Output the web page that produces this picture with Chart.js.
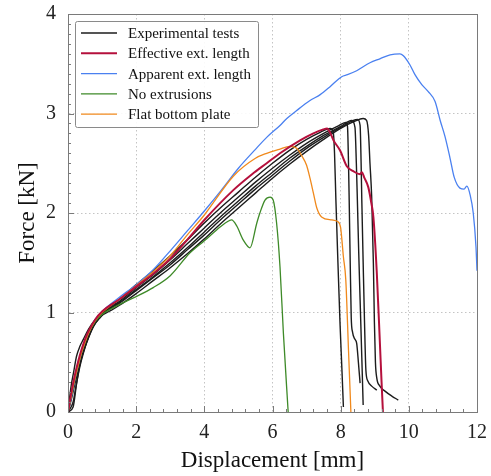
<!DOCTYPE html>
<html>
<head>
<meta charset="utf-8">
<script src="https://cdn.jsdelivr.net/npm/chart.js@4.4.0/dist/chart.umd.min.js"></script>
<style>
  html, body { margin: 0; padding: 0; background: #fff; }
</style>
</head>
<body>
<canvas id="chart" width="491" height="476"></canvas>
<script>
// Force-displacement curves, [displacement mm, force kN]
const expTest1 = [[0,0],[0.05,0.15],[0.1,0.28],[0.16,0.39],[0.25,0.56],[0.35,0.66],[0.45,0.73],[0.6,0.83],[0.8,0.93],[1.0,1.0],[1.25,1.07],[1.5,1.13],[2.0,1.28],[2.5,1.42],[3.0,1.57],[3.5,1.73],[4.0,1.9],[4.5,2.06],[5.0,2.21],[5.5,2.36],[6.0,2.5],[6.5,2.63],[7.0,2.74],[7.4,2.81],[7.69,2.85],[7.78,2.82],[7.82,2.6],[7.86,2.13],[7.92,1.5],[7.98,0.9],[8.04,0.4],[8.08,0.05]];
const expTest2 = [[0,0],[0.1,0.16],[0.2,0.32],[0.3,0.46],[0.4,0.58],[0.55,0.72],[0.75,0.87],[0.94,0.96],[1.2,1.05],[1.5,1.11],[2.0,1.25],[2.5,1.38],[3.0,1.53],[3.5,1.69],[4.0,1.85],[4.5,2.01],[5.0,2.16],[5.5,2.31],[6.0,2.45],[6.5,2.58],[7.0,2.7],[7.5,2.8],[7.9,2.87],[8.15,2.91],[8.2,2.87],[8.23,2.5],[8.25,2.13],[8.28,1.5],[8.31,0.95],[8.35,0.8],[8.42,0.73],[8.47,0.69],[8.52,0.5],[8.57,0.29]];
const expTest3 = [[0,0],[0.1,0.13],[0.2,0.28],[0.3,0.42],[0.4,0.55],[0.55,0.7],[0.75,0.86],[0.94,0.95],[1.2,1.04],[1.5,1.1],[2.0,1.23],[2.5,1.36],[3.0,1.5],[3.5,1.65],[4.0,1.81],[4.5,1.97],[5.0,2.12],[5.5,2.27],[6.0,2.41],[6.5,2.55],[7.0,2.67],[7.5,2.78],[8.0,2.87],[8.32,2.93],[8.42,2.86],[8.46,2.5],[8.49,2.13],[8.53,1.6],[8.57,1.13],[8.62,0.55],[8.66,0.07]];
const expTest4 = [[0,0],[0.15,0.1],[0.25,0.29],[0.35,0.46],[0.45,0.59],[0.55,0.7],[0.74,0.86],[0.94,0.95],[1.2,1.03],[1.5,1.09],[2.0,1.22],[2.5,1.35],[3.0,1.48],[3.5,1.63],[4.0,1.78],[4.5,1.94],[5.0,2.09],[5.5,2.24],[6.0,2.38],[6.5,2.52],[7.0,2.65],[7.5,2.76],[8.0,2.86],[8.5,2.94],[8.57,2.88],[8.6,2.5],[8.62,2.13],[8.66,1.5],[8.7,0.9],[8.74,0.42],[8.8,0.31],[8.91,0.26],[9.06,0.22]];
const expTest5 = [[0,0],[0.15,0.05],[0.25,0.28],[0.35,0.48],[0.55,0.71],[0.74,0.88],[0.94,0.96],[1.2,1.01],[1.5,1.07],[2.0,1.19],[2.5,1.32],[3.0,1.45],[3.5,1.59],[4.0,1.74],[4.5,1.9],[5.0,2.05],[5.5,2.2],[6.0,2.35],[6.5,2.49],[7.0,2.62],[7.5,2.74],[8.0,2.85],[8.4,2.92],[8.66,2.95],[8.76,2.93],[8.82,2.78],[8.86,2.5],[8.91,2.16],[8.96,1.49],[8.99,0.9],[9.02,0.5],[9.06,0.34],[9.15,0.26],[9.3,0.21],[9.5,0.16],[9.69,0.12]];

const effective = [[0,0],[0.1,0.2],[0.2,0.37],[0.3,0.51],[0.4,0.63],[0.5,0.73],[0.6,0.81],[0.8,0.93],[1.0,1.01],[1.5,1.13],[2.0,1.26],[2.5,1.39],[3.0,1.54],[3.5,1.73],[4.0,1.93],[4.85,2.23],[5.4,2.39],[5.83,2.5],[6.22,2.6],[6.81,2.73],[7.2,2.8],[7.49,2.84],[7.6,2.85],[7.7,2.8],[7.79,2.73],[7.98,2.63],[8.18,2.47],[8.37,2.42],[8.57,2.39],[8.62,2.41],[8.7,2.35],[8.81,2.26],[8.9,2.1],[8.96,1.96],[9.06,1.4],[9.15,0.7],[9.2,0.3],[9.24,0]];
const apparent = [[0,0],[0.1,0.15],[0.2,0.32],[0.3,0.47],[0.4,0.6],[0.5,0.71],[0.6,0.8],[0.8,0.93],[1.0,1.01],[1.5,1.15],[2.0,1.28],[2.5,1.43],[3.0,1.62],[3.5,1.82],[4.0,2.02],[4.5,2.23],[5.0,2.45],[5.5,2.64],[5.83,2.76],[6.22,2.88],[6.42,2.95],[6.71,3.03],[7.1,3.13],[7.4,3.19],[7.69,3.27],[8.03,3.37],[8.2,3.39],[8.47,3.43],[8.86,3.51],[9.15,3.55],[9.45,3.59],[9.74,3.6],[9.84,3.58],[10.03,3.49],[10.18,3.39],[10.38,3.29],[10.57,3.22],[10.77,3.12],[10.92,2.93],[11.06,2.77],[11.21,2.55],[11.33,2.36],[11.5,2.25],[11.62,2.24],[11.7,2.27],[11.8,2.18],[11.89,2.0],[11.97,1.66],[12.0,1.42]];
const noExtrusions = [[0,0],[0.1,0.17],[0.2,0.33],[0.3,0.47],[0.4,0.6],[0.5,0.7],[0.6,0.79],[0.8,0.91],[1.0,0.98],[1.23,1.03],[1.62,1.1],[2.0,1.16],[2.5,1.25],[3.0,1.37],[3.58,1.6],[4.0,1.72],[4.36,1.83],[4.66,1.91],[4.8,1.93],[4.95,1.87],[5.14,1.73],[5.34,1.65],[5.54,1.9],[5.63,2.0],[5.78,2.13],[5.93,2.16],[6.02,2.13],[6.12,1.9],[6.22,1.46],[6.32,0.79],[6.46,0]];
const flatPlate = [[0,0],[0.1,0.17],[0.2,0.33],[0.3,0.47],[0.4,0.6],[0.5,0.7],[0.6,0.79],[0.8,0.92],[1.0,1.0],[1.5,1.13],[2.0,1.27],[2.5,1.41],[3.0,1.57],[3.5,1.78],[4.0,1.98],[4.85,2.37],[5.5,2.55],[5.83,2.6],[6.2,2.64],[6.51,2.67],[6.71,2.65],[6.85,2.58],[7.0,2.48],[7.1,2.35],[7.2,2.2],[7.3,2.05],[7.44,1.96],[7.74,1.93],[7.93,1.91],[8.0,1.85],[8.08,1.56],[8.15,1.33],[8.23,0.62],[8.3,0]];

const legendLabels = ['Experimental tests', 'Effective ext. length', 'Apparent ext. length', 'No extrusions', 'Flat bottom plate'];
const xTicks = [0, 2, 4, 6, 8, 10, 12];
const yTicks = [0, 1, 2, 3, 4];

const SERIF = "'Liberation Serif', 'Times New Roman', serif";
const colors = { exp: '#1c1c1c', eff: '#b5103c', app: '#4a80f0', noext: '#3e8a28', flat: '#f0891c' };

function toXY(arr) {
  return arr.map(function(p) { return { x: p[0], y: p[1] }; });
}

function curve(label, data, color, width, order) {
  return {
    label: label,
    data: toXY(data),
    borderColor: color,
    backgroundColor: color,
    borderWidth: width,
    pointRadius: 0,
    fill: false,
    cubicInterpolationMode: 'monotone',
    order: order
  };
}

const datasets = [
  curve(legendLabels[1], effective, colors.eff, 2, 0),
  curve(legendLabels[4], flatPlate, colors.flat, 1.3, 1),
  curve(legendLabels[3], noExtrusions, colors.noext, 1.3, 2),
  curve(legendLabels[2], apparent, colors.app, 1.3, 3)
];
[expTest1, expTest2, expTest3, expTest4, expTest5].forEach(function(d) {
  datasets.push(curve(legendLabels[0], d, colors.exp, 1.4, 4));
});

// Frame and inward tick marks (major + minor)
const framePlugin = {
  id: 'frame',
  afterDatasetsDraw(chart) {
    const ctx = chart.ctx;
    const a = chart.chartArea;
    const xs = chart.scales.x, ys = chart.scales.y;
    ctx.save();
    ctx.strokeStyle = '#7a7a7a';
    ctx.lineWidth = 1;
    ctx.beginPath();
    // minor x ticks every 0.4
    for (let i = 0; i <= 30; i++) {
      const px = Math.round(xs.getPixelForValue(i * 0.4)) + 0.5;
      const len = (i % 5 === 0) ? 6 : 3;
      ctx.moveTo(px, a.bottom);
      ctx.lineTo(px, a.bottom - len);
    }
    // minor y ticks every 0.1
    for (let i = 0; i <= 40; i++) {
      const py = Math.round(ys.getPixelForValue(i * 0.1)) + 0.5;
      const len = (i % 10 === 0) ? 6 : 3;
      ctx.moveTo(a.left, py);
      ctx.lineTo(a.left + len, py);
    }
    ctx.stroke();
    ctx.strokeRect(Math.round(a.left) + 0.5, Math.round(a.top) + 0.5,
      Math.round(a.right - a.left), Math.round(a.bottom - a.top));
    ctx.restore();
  }
};

// Legend box in the upper left of the plot
const legendPlugin = {
  id: 'boxLegend',
  afterDraw(chart) {
    const ctx = chart.ctx;
    const items = [
      { text: legendLabels[0], color: colors.exp, w: 1.4 },
      { text: legendLabels[1], color: colors.eff, w: 2 },
      { text: legendLabels[2], color: colors.app, w: 1.3 },
      { text: legendLabels[3], color: colors.noext, w: 1.3 },
      { text: legendLabels[4], color: colors.flat, w: 1.3 }
    ];
    const bx = 75.5, by = 21.5, bw = 183, bh = 106;
    ctx.save();
    ctx.fillStyle = 'rgba(255,255,255,0.9)';
    ctx.strokeStyle = '#8a8a8a';
    ctx.lineWidth = 1;
    ctx.beginPath();
    if (ctx.roundRect) ctx.roundRect(bx, by, bw, bh, 2); else ctx.rect(bx, by, bw, bh);
    ctx.fill();
    ctx.stroke();
    ctx.font = '15px ' + SERIF;
    ctx.textBaseline = 'middle';
    ctx.fillStyle = '#111';
    items.forEach(function(it, i) {
      const y = 33 + i * 20.3;
      ctx.strokeStyle = it.color;
      ctx.lineWidth = it.w;
      ctx.beginPath();
      ctx.moveTo(81, y);
      ctx.lineTo(117, y);
      ctx.stroke();
      ctx.fillText(it.text, 128, y + 1);
    });
    ctx.restore();
  }
};

new Chart(document.getElementById('chart'), {
  type: 'line',
  data: { datasets: datasets },
  options: {
    responsive: false,
    animation: false,
    layout: { padding: { top: 14, right: 14, left: 0, bottom: 0 } },
    plugins: { legend: { display: false }, tooltip: { enabled: false } },
    scales: {
      x: {
        type: 'linear',
        min: 0,
        max: 12,
        afterFit: function(s) { s.height = 64; s.paddingLeft = 0; s.paddingRight = 0; },
        afterBuildTicks: function(s) { s.ticks = xTicks.map(function(v) { return { value: v }; }); },
        ticks: { font: { family: SERIF, size: 20 }, color: '#222', padding: 9 },
        grid: { color: '#c4c4c4', drawTicks: false, lineWidth: 1 },
        border: { color: '#7a7a7a', dash: [1.5, 2.5] },
        title: { display: true, text: 'Displacement [mm]', font: { family: SERIF, size: 23 }, color: '#111', padding: { top: 0, bottom: 1 } }
      },
      y: {
        type: 'linear',
        min: 0,
        max: 4,
        afterFit: function(s) { s.width = 68; s.paddingTop = 0; s.paddingBottom = 0; },
        afterBuildTicks: function(s) { s.ticks = yTicks.map(function(v) { return { value: v }; }); },
        ticks: { font: { family: SERIF, size: 20 }, color: '#222', padding: 12 },
        grid: { color: '#c4c4c4', drawTicks: false, lineWidth: 1 },
        border: { color: '#7a7a7a', dash: [1.5, 2.5] },
        title: { display: true, text: 'Force [kN]', font: { family: SERIF, size: 23 }, color: '#111', padding: { top: 14, bottom: 0 } }
      }
    }
  },
  plugins: [framePlugin, legendPlugin]
});
</script>
</body>
</html>
